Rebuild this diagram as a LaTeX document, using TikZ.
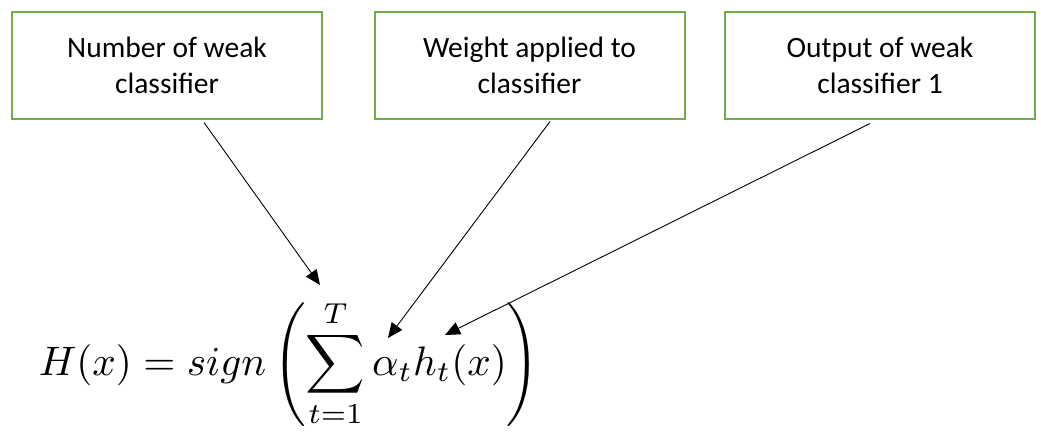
\documentclass[tikz,border=0pt]{standalone}
\usepackage[no-math]{fontspec}
\usepackage{amsmath}
\setmainfont{Carlito}
\usetikzlibrary{arrows.meta}
\definecolor{boxgreen}{RGB}{112,173,71}
\tikzset{
  labelbox/.style={draw=boxgreen,line width=2pt,minimum width=310pt,minimum height=106pt,
    align=center,font=\fontsize{29.5}{36}\selectfont},
  pointer/.style={-{Triangle[length=15pt,width=13pt]},line width=0.9pt}
}

\begin{document}
\begin{tikzpicture}[x=1pt,y=-1pt]
\useasboundingbox (0,0) rectangle (1041,436);
\clip (0,0) rectangle (1041,436);
\node[labelbox] (num) at (167,65.5) {Number of weak\\classifier};
\node[labelbox] (wgt) at (529.5,65.5) {Weight applied to\\classifier};
\node[labelbox] (out) at (880,65.5) {Output of weak\\classifier 1};
\node[anchor=base west,inner sep=0pt,scale=4.12] (hx) at (38,375)
  {$\displaystyle H(x) = sign\left(\sum_{t=1}^{T}\alpha_t h_t(x)\right)$};
\coordinate (sumtop) at (320,285);
\coordinate (alpha) at (388,338);
\coordinate (hsym) at (445,335);
\draw[pointer] ([xshift=37pt,yshift=-3pt]num.south) -- (sumtop);
\draw[pointer] ([xshift=20.5pt,yshift=-2pt]wgt.south) -- (alpha);
\draw[pointer] ([xshift=-10pt,yshift=-4pt]out.south) -- (hsym);
\end{tikzpicture}
\end{document}
